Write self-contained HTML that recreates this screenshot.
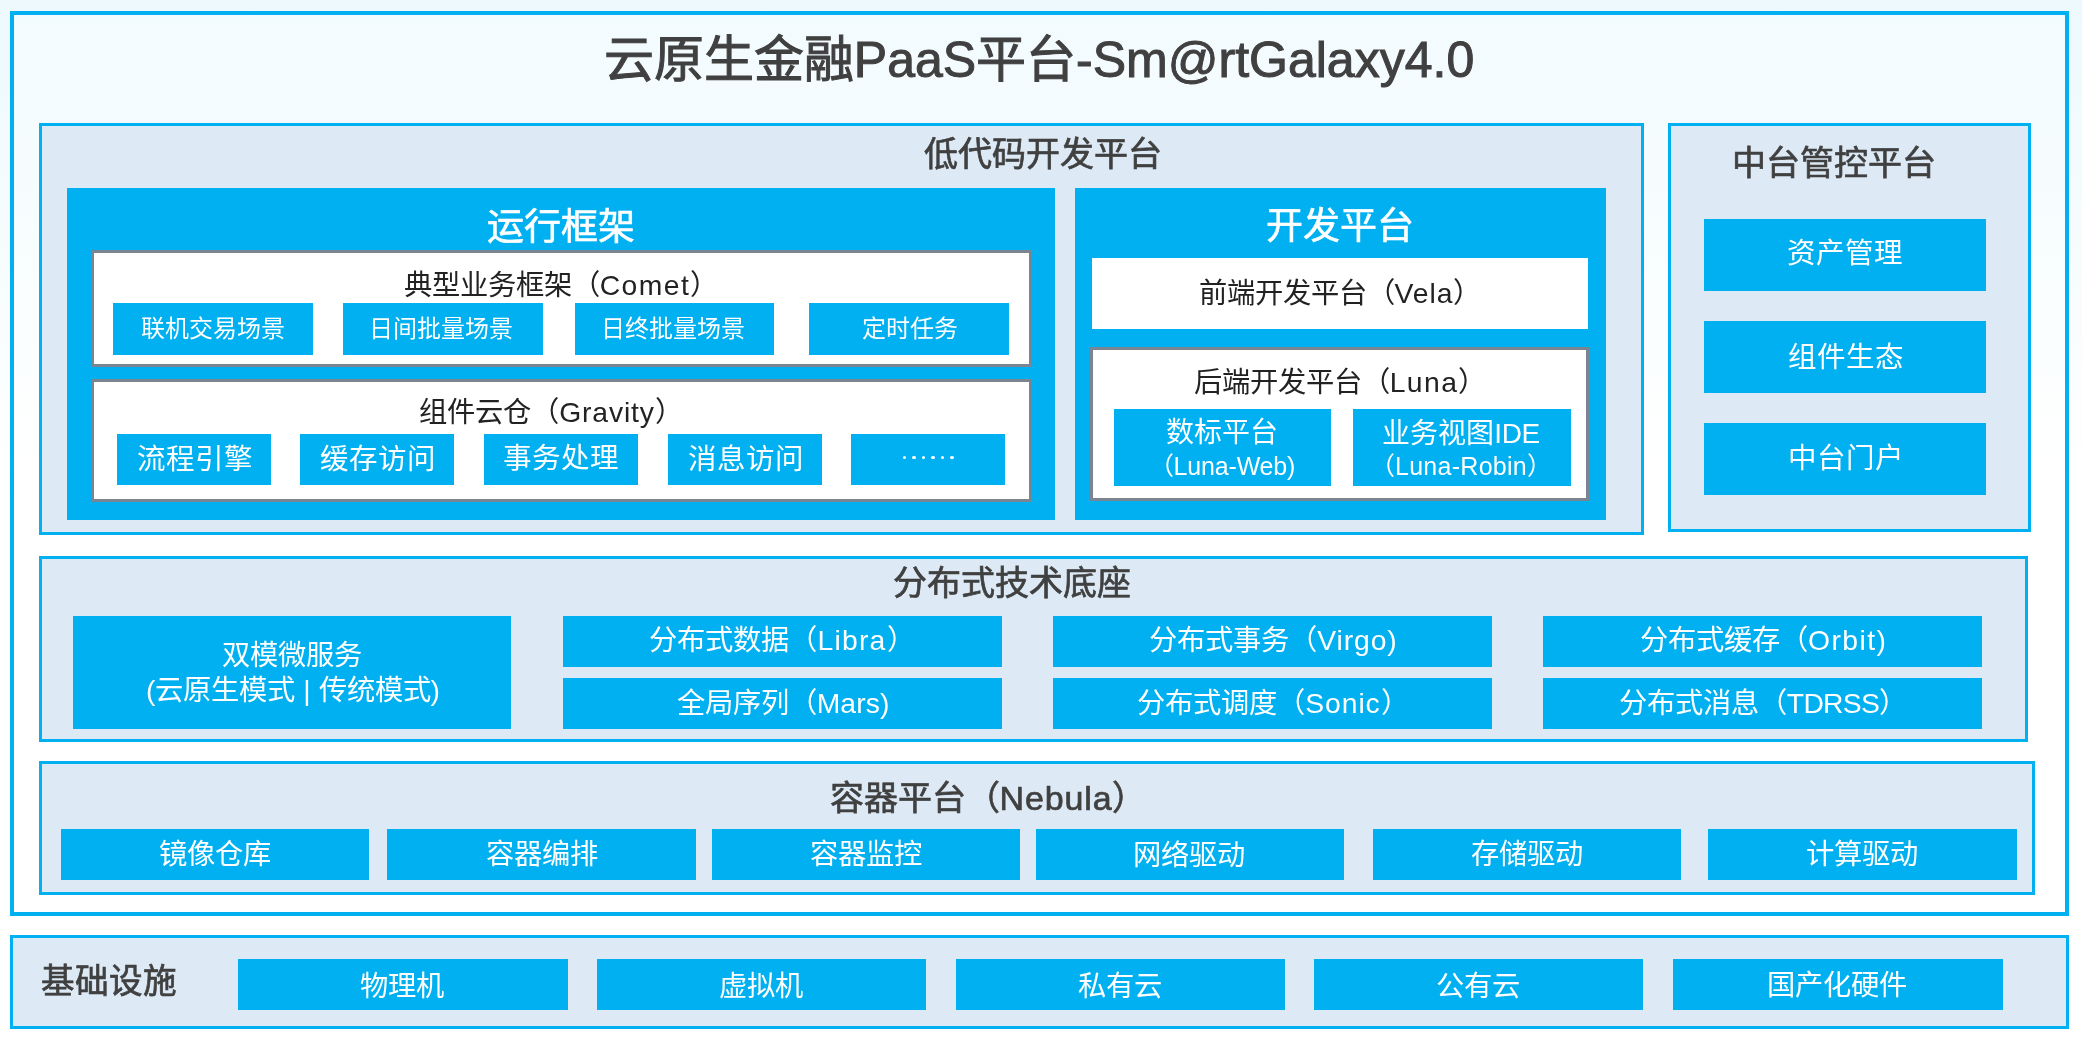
<!DOCTYPE html>
<html lang="zh-CN">
<head>
<meta charset="utf-8">
<style>
html,body{margin:0;padding:0;}
body{width:2082px;height:1041px;position:relative;overflow:hidden;background:linear-gradient(to bottom,#edf9fd 0px,#f7fcfe 260px,#ffffff 500px,#ffffff 1041px);font-family:"Liberation Sans",sans-serif;}
.r{position:absolute;box-sizing:border-box;}
.frame{border:4px solid #00b0f0;background:linear-gradient(to bottom,#f2fbfe 0px,#f8fdfe 230px,#ffffff 460px,#ffffff 905px);}
.sec{background:#ddeaf6;border:3px solid #00b0f0;}
.blue{background:#00b0f0;}
.white{background:#fff;}
.wb{background:#fff;border:3px solid #7b8591;}
.t{position:absolute;white-space:nowrap;line-height:1;text-align:center;width:1000px;will-change:transform;}
.w{color:#fff;}
.k{color:#222;}
.dk{color:#404040;}
</style>
</head>
<body>
<div class="r frame" style="left:10px;top:11px;width:2059px;height:905px"></div>
<div class="r sec" style="left:39px;top:122.5px;width:1604.5px;height:412.8px"></div>
<div class="r sec" style="left:1668.3px;top:123px;width:362.7px;height:409px"></div>
<div class="r blue" style="left:66.5px;top:188px;width:988.5px;height:331.5px"></div>
<div class="r blue" style="left:1074.5px;top:188px;width:531.5px;height:332px"></div>
<div class="r wb" style="left:91px;top:250px;width:941px;height:117px"></div>
<div class="r blue" style="left:113.1px;top:303.3px;width:199.9px;height:51.7px"></div>
<div class="r blue" style="left:343px;top:303.3px;width:200px;height:51.7px"></div>
<div class="r blue" style="left:575.4px;top:303.3px;width:198.9px;height:51.7px"></div>
<div class="r blue" style="left:809.2px;top:303.3px;width:200.3px;height:51.7px"></div>
<div class="r wb" style="left:91px;top:378.5px;width:941px;height:123.5px"></div>
<div class="r blue" style="left:116.8px;top:434px;width:154.0px;height:50.6px"></div>
<div class="r blue" style="left:300.4px;top:434px;width:154.0px;height:50.6px"></div>
<div class="r blue" style="left:484px;top:434px;width:154px;height:50.6px"></div>
<div class="r blue" style="left:667.6px;top:434px;width:154.0px;height:50.6px"></div>
<div class="r blue" style="left:851.2px;top:434px;width:154.0px;height:50.6px"></div>
<div class="r white" style="left:1091.9px;top:258.4px;width:495.8px;height:70.7px"></div>
<div class="r wb" style="left:1090px;top:346.8px;width:499.4px;height:154.2px"></div>
<div class="r blue" style="left:1114.1px;top:409px;width:217.1px;height:76.8px"></div>
<div class="r blue" style="left:1352.7px;top:409px;width:217.9px;height:76.8px"></div>
<div class="r blue" style="left:1704.2px;top:218.5px;width:281.4px;height:72.4px"></div>
<div class="r blue" style="left:1704.2px;top:320.5px;width:281.4px;height:72.5px"></div>
<div class="r blue" style="left:1704.2px;top:422.9px;width:281.4px;height:72.6px"></div>
<div class="r sec" style="left:39px;top:555.6px;width:1989.3px;height:186.1px"></div>
<div class="r blue" style="left:73.2px;top:616.1px;width:438.1px;height:113.3px"></div>
<div class="r blue" style="left:563.1px;top:616.1px;width:438.7px;height:50.7px"></div>
<div class="r blue" style="left:563.1px;top:677.8px;width:438.7px;height:51.6px"></div>
<div class="r blue" style="left:1053.2px;top:616.1px;width:438.7px;height:50.7px"></div>
<div class="r blue" style="left:1053.2px;top:677.8px;width:438.7px;height:51.6px"></div>
<div class="r blue" style="left:1543px;top:616.1px;width:438.7px;height:50.7px"></div>
<div class="r blue" style="left:1543px;top:677.8px;width:438.7px;height:51.6px"></div>
<div class="r sec" style="left:39px;top:761px;width:1995.5px;height:134.3px"></div>
<div class="r blue" style="left:61px;top:828.7px;width:308px;height:51.3px"></div>
<div class="r blue" style="left:387px;top:828.7px;width:308.6px;height:51.3px"></div>
<div class="r blue" style="left:711.8px;top:828.7px;width:308.1px;height:51.3px"></div>
<div class="r blue" style="left:1035.8px;top:828.7px;width:308.2px;height:51.3px"></div>
<div class="r blue" style="left:1372.8px;top:828.7px;width:308.0px;height:51.3px"></div>
<div class="r blue" style="left:1707.8px;top:828.7px;width:308.8px;height:51.3px"></div>
<div class="r sec" style="left:10.4px;top:935.4px;width:2058.2px;height:93.2px"></div>
<div class="r blue" style="left:238px;top:958.8px;width:329.5px;height:51.2px"></div>
<div class="r blue" style="left:597.2px;top:958.8px;width:329.0px;height:51.2px"></div>
<div class="r blue" style="left:955.6px;top:958.8px;width:329.2px;height:51.2px"></div>
<div class="r blue" style="left:1313.9px;top:958.8px;width:329.4px;height:51.2px"></div>
<div class="r blue" style="left:1673.1px;top:958.8px;width:329.6px;height:51.2px"></div>
<div class="t dk" style="left:539.2px;top:35.1px;font-size:50px;-webkit-text-stroke:1px currentColor;">云原生金融PaaS平台-Sm@rtGalaxy4.0</div>
<div class="t dk" style="left:543.3px;top:136.66px;font-size:34px;-webkit-text-stroke:0.7px currentColor;">低代码开发平台</div>
<div class="t dk" style="left:1334.1px;top:146.06px;font-size:34px;-webkit-text-stroke:0.7px currentColor;">中台管控平台</div>
<div class="t dk" style="left:511.6px;top:566.06px;font-size:34px;-webkit-text-stroke:0.7px currentColor;">分布式技术底座</div>
<div class="t dk" style="left:487.5px;top:781.26px;font-size:34px;-webkit-text-stroke:0.7px currentColor;">容器平台（<span style="letter-spacing:0.867px">Nebula</span>）</div>
<div class="t dk" style="left:-391.5px;top:964.66px;font-size:33.6px;-webkit-text-stroke:0.7px currentColor;">基础设施</div>
<div class="t w" style="left:61.25px;top:208.62px;font-size:37px;-webkit-text-stroke:0.6px currentColor;">运行框架</div>
<div class="t w" style="left:839.5px;top:208.12px;font-size:37px;-webkit-text-stroke:0.6px currentColor;">开发平台</div>
<div class="t k" style="left:61.25px;top:270.52px;font-size:28.3px;">典型业务框架（<span style="letter-spacing:1.42px">Comet</span>）</div>
<div class="t k" style="left:51.0px;top:398.42px;font-size:28.3px;">组件云仓（<span style="letter-spacing:0.829px">Gravity</span>）</div>
<div class="t k" style="left:840.0px;top:279.22px;font-size:28.3px;">前端开发平台（<span style="letter-spacing:0.95px">Vela</span>）</div>
<div class="t k" style="left:840.0px;top:367.52px;font-size:28.3px;">后端开发平台（<span style="letter-spacing:1.4px">Luna</span>）</div>
<div class="t w" style="left:-286.75px;top:317.26px;font-size:24px;">联机交易场景</div>
<div class="t w" style="left:-59.0px;top:317.26px;font-size:24px;">日间批量场景</div>
<div class="t w" style="left:173.25px;top:317.26px;font-size:24px;">日终批量场景</div>
<div class="t w" style="left:409.75px;top:317.26px;font-size:24px;">定时任务</div>
<div class="t w" style="left:-305.5px;top:445.22px;font-size:28.5px;">流程引擎</div>
<div class="t w" style="left:-122.0px;top:445.22px;font-size:28.5px;">缓存访问</div>
<div class="t w" style="left:60.5px;top:444.22px;font-size:28.5px;">事务处理</div>
<div class="t w" style="left:245.5px;top:445.22px;font-size:28.5px;">消息访问</div>
<div class="t w" style="left:721.95px;top:418.72px;font-size:28px;">数标平台</div>
<div class="t w" style="left:722.0px;top:454.0px;font-size:25px;">（<span style="letter-spacing:-0.175px">Luna-Web</span>)</div>
<div class="t w" style="left:961.0px;top:419.72px;font-size:28px;">业务视图<span style="letter-spacing:-0.467px">IDE</span></div>
<div class="t w" style="left:961.3px;top:454.0px;font-size:25px;">（<span style="letter-spacing:0.27px">Luna-Robin</span>）</div>
<div class="t w" style="left:1344.5px;top:239.22px;font-size:28.5px;">资产管理</div>
<div class="t w" style="left:1345.5px;top:342.72px;font-size:28.5px;">组件生态</div>
<div class="t w" style="left:1346.0px;top:443.71px;font-size:28.5px;">中台门户</div>
<div class="t w" style="left:-207.55px;top:641.22px;font-size:28.3px;">双模微服务</div>
<div class="t w" style="left:-207.25px;top:675.6px;font-size:28.3px;">(云原生模式 | 传统模式)</div>
<div class="t w" style="left:282.25px;top:626.12px;font-size:28.3px;">分布式数据（<span style="letter-spacing:1.22px">Libra</span>）</div>
<div class="t w" style="left:282.5px;top:689.02px;font-size:28.3px;">全局序列（<span style="letter-spacing:0.1px">Mars</span>)</div>
<div class="t w" style="left:773.0px;top:626.12px;font-size:28.3px;">分布式事务（<span style="letter-spacing:0.88px">Virgo</span>)</div>
<div class="t w" style="left:773.0px;top:689.02px;font-size:28.3px;">分布式调度（<span style="letter-spacing:0.92px">Sonic</span>）</div>
<div class="t w" style="left:1263.0px;top:626.12px;font-size:28.3px;">分布式缓存（<span style="letter-spacing:1.44px">Orbit</span>)</div>
<div class="t w" style="left:1262.5px;top:689.02px;font-size:28.3px;">分布式消息（<span style="letter-spacing:-0.72px">TDRSS</span>）</div>
<div class="t w" style="left:-285.0px;top:840.22px;font-size:28.3px;">镜像仓库</div>
<div class="t w" style="left:41.5px;top:840.22px;font-size:28.3px;">容器编排</div>
<div class="t w" style="left:366.25px;top:840.22px;font-size:28.3px;">容器监控</div>
<div class="t w" style="left:689.0px;top:841.22px;font-size:28.3px;">网络驱动</div>
<div class="t w" style="left:1027.0px;top:840.22px;font-size:28.3px;">存储驱动</div>
<div class="t w" style="left:1362.0px;top:840.22px;font-size:28.3px;">计算驱动</div>
<div class="t w" style="left:-98.25px;top:972.22px;font-size:28.3px;">物理机</div>
<div class="t w" style="left:261.0px;top:972.22px;font-size:28.3px;">虚拟机</div>
<div class="t w" style="left:620.0px;top:972.22px;font-size:28.3px;">私有云</div>
<div class="t w" style="left:978.0px;top:972.22px;font-size:28.3px;">公有云</div>
<div class="t w" style="left:1337.0px;top:971.22px;font-size:28.3px;">国产化硬件</div>
<div class="r" style="left:902.75px;top:455.75px;width:3.5px;height:3.5px;border-radius:50%;background:#fff"></div>
<div class="r" style="left:912.2px;top:455.75px;width:3.5px;height:3.5px;border-radius:50%;background:#fff"></div>
<div class="r" style="left:921.65px;top:455.75px;width:3.5px;height:3.5px;border-radius:50%;background:#fff"></div>
<div class="r" style="left:931.15px;top:455.75px;width:3.5px;height:3.5px;border-radius:50%;background:#fff"></div>
<div class="r" style="left:940.65px;top:455.75px;width:3.5px;height:3.5px;border-radius:50%;background:#fff"></div>
<div class="r" style="left:950.2px;top:455.75px;width:3.5px;height:3.5px;border-radius:50%;background:#fff"></div>
</body></html>
